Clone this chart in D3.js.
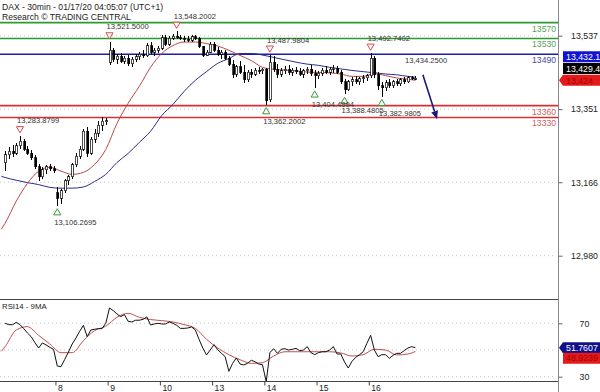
<!DOCTYPE html>
<html><head><meta charset="utf-8">
<script src="https://cdn.jsdelivr.net/npm/d3@7"></script>
<style>body{margin:0;background:#fff}svg{display:block;font-family:"Liberation Sans",Arial,sans-serif}</style>
</head><body><svg id="c" width="600" height="392"></svg>
<script>
// ---------- data ----------
const titleText = "DAX - 30min - 01/17/20 04:05:07 (UTC+1)";
const subtitleText = "Research \u00A9 TRADING CENTRAL";
const rsiTitle = "RSI14 - 9MA";
const dayLabels = ["8","9","10","13","14","15","16"];
const dayTickIdx = [14,28,42,56,70,84,98];

const opens = [13215,13235,13245,13240,13258,13270,13250,13240,13228,13205,13180,13198,13205,13200,
 13140,13125,13145,13170,13180,13210,13232,13250,13295,13240,13275,13290,13310,13320,
 13470,13500,13478,13485,13472,13480,13466,13478,13484,13490,13486,13512,13495,13500,
 13505,13532,13515,13530,13535,13532,13530,13528,13526,13534,13530,13510,13488,13495,
 13515,13500,13490,13495,13480,13465,13440,13458,13445,13425,13445,13440,13450,13448,
 13452,13375,13470,13452,13440,13448,13452,13444,13450,13446,13440,13448,13452,13442,
 13435,13442,13450,13445,13452,13455,13444,13420,13400,13420,13425,13420,13428,13430,
 13435,13480,13438,13410,13405,13418,13410,13420,13415,13425,13420,13430,13428];
const highs = [13245,13255,13260,13265,13284,13275,13258,13248,13235,13212,13205,13210,13212,13208,
 13155,13150,13175,13185,13215,13240,13258,13300,13305,13280,13300,13320,13330,13328,
 13521.5,13505,13490,13492,13486,13488,13482,13490,13495,13502,13518,13520,13505,13510,
 13540,13538,13535,13542,13548.2,13540,13535,13535,13538,13540,13533,13512,13500,13522,
 13520,13508,13502,13500,13485,13475,13462,13472,13462,13450,13452,13455,13458,13456,
 13456,13488,13485,13465,13455,13460,13462,13455,13458,13455,13452,13458,13462,13450,
 13448,13455,13460,13458,13462,13460,13450,13428,13425,13432,13435,13432,13438,13440,
 13492.7,13485,13445,13420,13425,13428,13425,13428,13430,13432,13435,13436,13434];
const lows = [13195,13225,13230,13235,13250,13245,13235,13222,13200,13168,13175,13188,13195,13190,
 13106.3,13110,13140,13160,13175,13205,13225,13245,13230,13235,13265,13280,13295,13312,
 13462,13470,13465,13468,13465,13460,13458,13470,13476,13480,13482,13490,13485,13494,
 13500,13510,13510,13525,13528,13525,13522,13520,13522,13525,13505,13482,13485,13492,
 13495,13485,13478,13476,13460,13430,13432,13440,13418,13420,13430,13435,13440,13440,
 13362.2,13370,13445,13430,13432,13440,13438,13436,13440,13435,13430,13440,13436,13404.5,
 13428,13436,13440,13438,13442,13440,13415,13388.5,13396,13410,13415,13412,13418,13422,
 13430,13430,13400,13383,13398,13405,13405,13410,13410,13415,13418,13424,13424];
const closes = [13235,13245,13240,13258,13270,13250,13240,13228,13205,13180,13198,13205,13200,13195,
 13125,13145,13170,13180,13210,13232,13250,13295,13240,13275,13290,13310,13320,13322,
 13500,13478,13485,13472,13480,13466,13478,13484,13490,13486,13512,13495,13500,13505,
 13532,13515,13530,13535,13532,13530,13528,13526,13534,13530,13510,13488,13495,13515,
 13500,13490,13495,13480,13465,13440,13458,13445,13425,13445,13440,13450,13448,13452,
 13372,13470,13452,13440,13448,13452,13444,13450,13446,13440,13448,13452,13442,13435,
 13442,13450,13445,13452,13455,13444,13420,13400,13420,13425,13420,13428,13430,13435,
 13480,13438,13410,13405,13418,13410,13420,13415,13425,13420,13430,13428,13429.4];

const maIdx = [-1,0,3,6,9,12,15,18,21,24,27,30,33,36,39,42,45,48,51,54,57,60,63,66,69,72,75,78,81,84,87,90,93,96,99,102,105,108,110];
const maFast = [13047,13062,13118,13163,13194,13204,13194,13186,13191,13211,13249,13315,13366,13409,13457,13492,13512,13521,13521,13517,13511,13500,13487,13474,13457,13452,13450,13448,13445,13444,13443,13440,13434,13434,13441,13436,13430,13427,13424];
const maSlow = [13181,13178,13171,13165,13160,13153,13151,13151,13154,13168,13186,13216,13239,13267,13295,13335,13363,13396,13424,13446,13467,13479,13492,13492,13488,13482,13476,13470,13465,13462,13457,13453,13449,13446,13443,13440,13438,13434,13432];

const rsi = [70,69,68.9,70.7,69,66,62.7,60,55.5,51.5,55.3,53.8,52,50.5,
 38,37.5,43,48.5,54.5,59,64,68.5,60,65,65.5,66,66,70,
 81.5,79.5,77,75,76.5,71.5,71,72.3,72.3,73,74.8,68.7,69.5,70,
 69.5,69.5,71,70,68.5,66.2,66.2,66.5,67.3,65,58,51.5,46.3,50,
 54,50.2,47.5,45,34,40,44,39.5,38.8,40,42.3,41.2,39.5,39,
 26.3,48,51,47.5,50.5,51,50,50.5,51.2,49.5,50,52.5,48,46.5,
 48,48.7,48.7,50,52.5,47,47,41,36.5,41.5,44.5,46.5,48.7,55,
 61,50,45,46.5,46.5,43.7,46,47.5,47.5,49.5,51.5,52.5,51.7607];
const rsiMA = [49,52.5,65,67.5,61,54.5,48,48,57,64.5,67.8,74.5,77.5,74.5,72.8,72,71,69,66.2,58,51.5,46.5,42.7,40,40.5,45.5,48.7,48.7,48.7,48.7,48.7,47.8,45.5,46.5,50.5,50,46.3,47,48.9239];

const priceTicks = [12980,13166,13351,13537];
const rsiGrid = [30,50,70];
const rsiTickLabels = [30,70];

const levels = [13570,13530,13490,13360,13330];
const levelKinds = ["res","res","pivot","sup","sup"];

const highMarkIdx = [4,28,46,71,98];
const highMarkVal = [13283.8799,13521.5000,13548.2002,13487.9804,13492.7402];
const lowMarkIdx = [14,70,83,91,101];
const lowMarkVal = [13106.2695,13362.2002,13404.4994,13388.4805,13382.9805];

const noteIdx = [107.7];
const notePrice = [13468];
const noteText = ["13,434.2500"];

const arrowFrom = [112.5,13438];
const arrowTo = [116.3,13326];

const lastLabels = ["13,432.1","13,429.4","13,424"];
const lastValueRed = 13424;
const rsiLastLabels = ["51.7607","48.9239"];
const rsiLastValue = 51.7607;

// ---------- scales ----------
const svg = d3.select("#c");
const plotRight = 558;
const x = d3.scaleLinear().domain([0,112]).range([3.2,421]);
const y = d3.scaleLinear().domain([12980,13537]).range([255.7,35.7]);
const yr = d3.scaleLinear().domain([30,70]).range([376.7,323.3]);
const cx = i => x(i+0.5);

const colLevel = {res:"#2f9a2f", pivot:"#1c1ca8", sup:"#d63030"};
const colLevelTxt = {res:"#5c9e5c", pivot:"#4848a6", sup:"#c86262"};

// header
svg.append("text").attr("x",2).attr("y",10).attr("font-size",8.6).attr("fill","#222").text(titleText);
svg.append("text").attr("x",2).attr("y",19.5).attr("font-size",8.6).attr("fill","#222").text(subtitleText);

// grid
svg.selectAll("line.pg").data(priceTicks).join("line").attr("class","pg")
  .attr("x1",0).attr("x2",plotRight-2).attr("y1",d=>y(d)).attr("y2",d=>y(d))
  .attr("stroke","#c4c4c4").attr("stroke-dasharray","1,3");
svg.selectAll("line.rg").data(rsiGrid).join("line").attr("class","rg")
  .attr("x1",0).attr("x2",plotRight-2).attr("y1",d=>yr(d)).attr("y2",d=>yr(d))
  .attr("stroke","#c4c4c4").attr("stroke-dasharray","1,3");

// levels
svg.selectAll("line.lv").data(levels).join("line").attr("class","lv")
  .attr("x1",0).attr("x2",plotRight).attr("y1",d=>y(d)).attr("y2",d=>y(d))
  .attr("stroke",(d,i)=>colLevel[levelKinds[i]]).attr("stroke-width",1.6);
svg.selectAll("text.lv").data(levels).join("text").attr("class","lv")
  .attr("x",plotRight-2).attr("y",d=>y(d)+9).attr("text-anchor","end")
  .attr("font-size",8.6).attr("fill",(d,i)=>colLevelTxt[levelKinds[i]]).text(d=>d);

// moving averages
const maLine = d3.line().x((d,k)=>cx(maIdx[k])).y(d=>y(d)).curve(d3.curveMonotoneX);
svg.append("path").datum(maSlow).attr("d",maLine).attr("fill","none").attr("stroke","#2c2c8c").attr("stroke-width",1);
svg.append("path").datum(maFast).attr("d",maLine).attr("fill","none").attr("stroke","#b84848").attr("stroke-width",1);

// candles
const bars = d3.range(closes.length);
const cg = svg.append("g").attr("shape-rendering","crispEdges");
cg.selectAll("line").data(bars).join("line")
  .attr("x1",i=>Math.round(cx(i))+0.5).attr("x2",i=>Math.round(cx(i))+0.5)
  .attr("y1",i=>y(highs[i])).attr("y2",i=>y(lows[i])).attr("stroke","#000").attr("stroke-width",1);
cg.selectAll("rect").data(bars).join("rect")
  .attr("x",i=>Math.round(cx(i))-0.5).attr("width",2)
  .attr("y",i=>y(Math.max(opens[i],closes[i])))
  .attr("height",i=>Math.max(1,Math.abs(y(opens[i])-y(closes[i]))))
  .attr("fill",i=>closes[i]>=opens[i]?"#fff":"#000").attr("stroke","#000").attr("stroke-width",0.7);

// markers
const fmt = d3.format(",.4f");
const tri = d3.symbol().type(d3.symbolTriangle).size(22);
svg.selectAll("path.hm").data(highMarkIdx).join("path").attr("class","hm")
  .attr("d",tri).attr("transform",(d,k)=>`translate(${cx(d)},${y(highMarkVal[k])-7}) rotate(180)`)
  .attr("fill","#fff").attr("stroke","#e04a4a").attr("stroke-width",1);
svg.selectAll("text.hm").data(highMarkIdx).join("text").attr("class","hm")
  .attr("x",d=>cx(d)-3).attr("y",(d,k)=>y(highMarkVal[k])-12.5)
  .attr("font-size",7.6).attr("fill","#333").text((d,k)=>fmt(highMarkVal[k]));
svg.selectAll("path.lm").data(lowMarkIdx).join("path").attr("class","lm")
  .attr("d",tri).attr("transform",(d,k)=>`translate(${cx(d)},${y(lowMarkVal[k])+7})`)
  .attr("fill","#fff").attr("stroke","#3a9a3a").attr("stroke-width",1);
svg.selectAll("text.lm").data(lowMarkIdx).join("text").attr("class","lm")
  .attr("x",d=>cx(d)-3).attr("y",(d,k)=>y(lowMarkVal[k])+19)
  .attr("font-size",7.6).attr("fill","#333").text((d,k)=>fmt(lowMarkVal[k]));
svg.selectAll("text.note").data(noteIdx).join("text").attr("class","note")
  .attr("x",d=>x(d)).attr("y",(d,k)=>y(notePrice[k]))
  .attr("font-size",7.6).attr("fill","#333").text((d,k)=>noteText[k]);

// arrow
{
  const x1=x(arrowFrom[0]), y1=y(arrowFrom[1]), x2=x(arrowTo[0]), y2=y(arrowTo[1]);
  const ang=Math.atan2(y2-y1,x2-x1), L=8, Wd=3.5;
  const bx=x2-L*Math.cos(ang), by=y2-L*Math.sin(ang);
  svg.append("line").attr("x1",x1).attr("y1",y1).attr("x2",bx).attr("y2",by).attr("stroke","#1a1a7a").attr("stroke-width",1.6);
  const p=[[x2,y2],[bx+Wd*Math.sin(ang),by-Wd*Math.cos(ang)],[bx-Wd*Math.sin(ang),by+Wd*Math.cos(ang)]];
  svg.append("path").attr("d","M"+p.map(d=>d.join(",")).join("L")+"Z").attr("fill","#1a1a7a");
}

// RSI
const rsiLine = d3.line().x((d,i)=>cx(i)).y(d=>yr(d));
const rsiMaLine = d3.line().x((d,k)=>cx(maIdx[k])).y(d=>yr(d)).curve(d3.curveMonotoneX);
svg.append("path").datum(rsiMA).attr("d",rsiMaLine).attr("fill","none").attr("stroke","#c05050").attr("stroke-width",1);
svg.append("path").datum(rsi).attr("d",rsiLine).attr("fill","none").attr("stroke","#111").attr("stroke-width",1);
svg.append("text").attr("x",2).attr("y",309).attr("font-size",7.8).attr("fill","#222").text(rsiTitle);

// frame
svg.append("line").attr("x1",0).attr("x2",plotRight).attr("y1",299.5).attr("y2",299.5).attr("stroke","#444");
svg.append("line").attr("x1",0).attr("x2",plotRight).attr("y1",381.5).attr("y2",381.5).attr("stroke","#444");
svg.append("line").attr("x1",plotRight+0.5).attr("x2",plotRight+0.5).attr("y1",0).attr("y2",392).attr("stroke","#888");

// axes
const ay = svg.append("g").attr("transform",`translate(${plotRight+0.5},0)`)
  .call(d3.axisRight(y).tickValues(priceTicks).tickFormat(d3.format(",")).tickSize(4));
ay.select(".domain").remove();
ay.selectAll("line").attr("stroke","#666");
ay.selectAll("text").attr("x",26).attr("text-anchor","middle").attr("font-size",8.8).attr("fill","#222").attr("font-family","Liberation Sans, Arial, sans-serif");

const ar = svg.append("g").attr("transform",`translate(${plotRight+0.5},0)`)
  .call(d3.axisRight(yr).tickValues(rsiTickLabels).tickSize(4));
ar.select(".domain").remove();
ar.selectAll("line").attr("stroke","#666");
ar.selectAll("text").attr("x",26).attr("text-anchor","middle").attr("font-size",8.8).attr("fill","#222").attr("font-family","Liberation Sans, Arial, sans-serif");

const ax = svg.append("g").attr("transform","translate(0,381.5)")
  .call(d3.axisBottom(x).tickValues(dayTickIdx).tickFormat((d,i)=>dayLabels[i]).tickSize(4));
ax.select(".domain").remove();
ax.selectAll("line").attr("stroke","#444");
ax.selectAll("text").attr("text-anchor","start").attr("x",2).attr("y",9.5).attr("dy",0)
  .attr("font-size",8.6).attr("fill","#222").attr("font-family","Liberation Sans, Arial, sans-serif");

// value boxes
function box(yc, fill, txt, txtFill, arrow){
  const h=11, x0=563;
  const g=svg.append("g");
  let d=`M${x0},${yc-h/2}H600V${yc+h/2}H${x0}`;
  d += arrow ? `L${plotRight+1},${yc}Z` : "Z";
  g.append("path").attr("d",d).attr("fill",fill);
  g.append("text").attr("x",x0+3).attr("y",yc+3.2).attr("font-size",8.8).attr("fill",txtFill).text(txt);
}
const yRed = y(lastValueRed);
box(yRed-23.5,"#1414d0",lastLabels[0],"#fff",false);
box(yRed-11.8,"#000",lastLabels[1],"#fff",false);
box(yRed,"#e31a1a",lastLabels[2],"#a80000",true);

const yRsi = yr(rsiLastValue);
box(yRsi,"#10108c",rsiLastLabels[0],"#fff",true);
box(yRsi+10.5,"#e31a1a",rsiLastLabels[1],"#a80000",false);
</script></body></html>
